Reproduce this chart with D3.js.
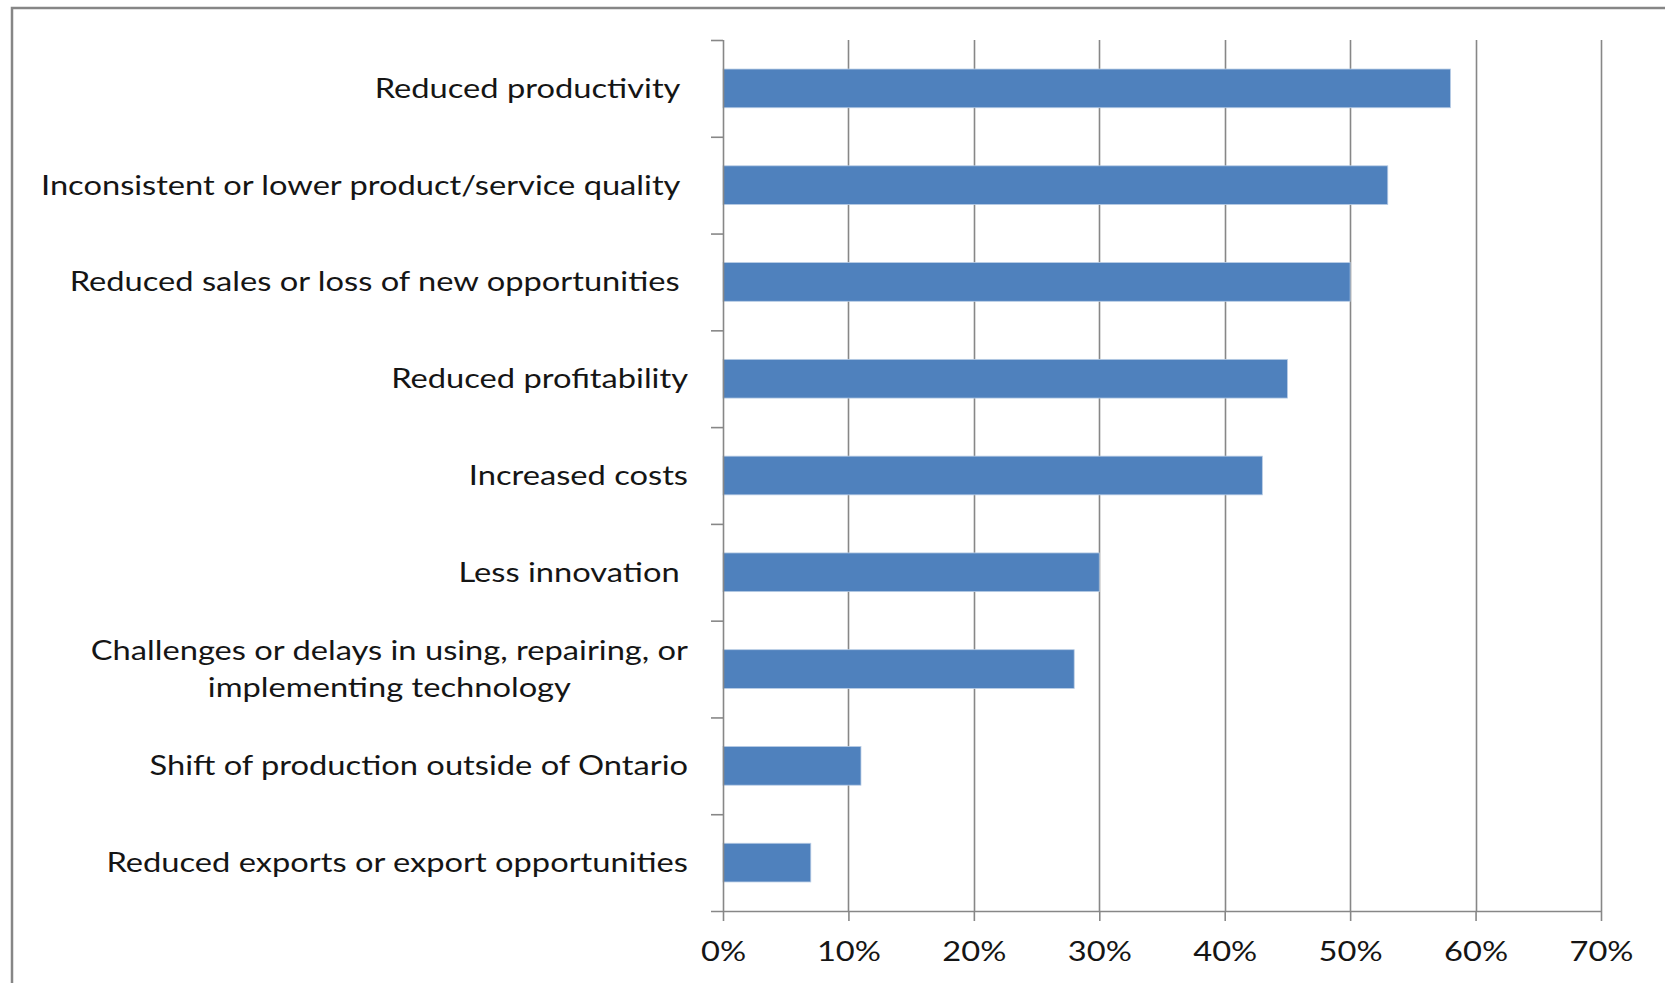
<!DOCTYPE html>
<html>
<head>
<meta charset="utf-8">
<script src="https://cdn.jsdelivr.net/npm/d3@7"></script>
<style>
  html, body { margin: 0; padding: 0; background: #fff; overflow: hidden; }
  svg { display: block; }
  text { font-family: Lato, "Open Sans", sans-serif; fill: #151515; white-space: pre; }
</style>
</head>
<body>
<script>
// Consequences reported, top to bottom; multi-line labels split on "\n"
const categories = [
  "Reduced productivity ",
  "Inconsistent or lower product/service quality ",
  "Reduced sales or loss of new opportunities ",
  "Reduced profitability",
  "Increased costs",
  "Less innovation ",
  "Challenges or delays in using, repairing, or\nimplementing technology",
  "Shift of production outside of Ontario",
  "Reduced exports or export opportunities"
];
const shares = [58, 53, 50, 45, 43, 30, 28, 11, 7];
const tickValues = [0, 10, 20, 30, 40, 50, 60, 70];
const tickLabels = ["0%", "10%", "20%", "30%", "40%", "50%", "60%", "70%"];

const W = 1665, H = 983;
const plot = { left: 723, right: 1601, top: 40, bottom: 911 };
const stretch = 1.21;   // wide setting of the label type
const fontSize = 27;

const svg = d3.select("body").append("svg").attr("width", W).attr("height", H);

// chart area frame
svg.append("rect")
  .attr("x", 12).attr("y", 8)
  .attr("width", W + 20).attr("height", H + 20)
  .attr("fill", "none").attr("stroke", "#868686").attr("stroke-width", 2.5);

const x = d3.scaleLinear().domain([0, 70]).range([plot.left, plot.right]);
const y = d3.scaleBand().domain(categories).range([plot.top, plot.bottom]).paddingInner(0.6).paddingOuter(0.3);
const yb = d3.scaleBand().domain(categories).range([plot.top, plot.bottom]);

// vertical gridlines
svg.append("g").selectAll("line").data(tickValues.slice(1)).join("line")
  .attr("x1", d => Math.round(x(d)) + 0.5).attr("x2", d => Math.round(x(d)) + 0.5)
  .attr("y1", plot.top).attr("y2", plot.bottom)
  .attr("stroke", "#878787").attr("stroke-width", 1.6);

// bars
svg.append("g").selectAll("rect").data(categories).join("rect")
  .attr("x", x(0))
  .attr("y", d => y(d))
  .attr("width", (d, i) => x(shares[i]) - x(0))
  .attr("height", y.bandwidth())
  .attr("fill", "#4f81bd")
  .attr("stroke", "#b9cde5").attr("stroke-width", 0.8);

// x axis (percent)
const xAxis = d3.axisBottom(x).tickValues(tickValues)
  .tickFormat((d, i) => tickLabels[i]).tickSize(10).tickSizeOuter(0).tickPadding(21);
const gx = svg.append("g").attr("transform", `translate(0,${plot.bottom})`).call(xAxis);
gx.select(".domain").remove();
gx.selectAll(".tick line").attr("stroke", "#878787").attr("stroke-width", 1.6);
gx.selectAll(".tick text")
  .attr("font-size", fontSize).attr("font-family", "Lato, sans-serif").attr("fill", "#151515")
  .attr("transform", `scale(${stretch},1)`);
svg.append("line")
  .attr("x1", plot.left - 12).attr("x2", plot.right)
  .attr("y1", plot.bottom + 0.5).attr("y2", plot.bottom + 0.5)
  .attr("stroke", "#878787").attr("stroke-width", 1.6);

// category axis line and band-edge ticks
const gy = svg.append("g");
gy.append("line")
  .attr("x1", plot.left + 0.5).attr("x2", plot.left + 0.5)
  .attr("y1", plot.top).attr("y2", plot.bottom)
  .attr("stroke", "#878787").attr("stroke-width", 1.6);
const edges = categories.map(c => yb(c));
gy.selectAll("line.edge").data(edges).join("line").attr("class", "edge")
  .attr("x1", plot.left - 12).attr("x2", plot.left)
  .attr("y1", d => d + 0.5).attr("y2", d => d + 0.5)
  .attr("stroke", "#878787").attr("stroke-width", 1.6);

// category labels, right-aligned beside the axis
const labelX = 688;
const lineH = 37;
const labels = svg.append("g").attr("font-size", fontSize);
categories.forEach(c => {
  const lines = c.split("\n");
  const cy = yb(c) + yb.bandwidth() / 2;
  const g = labels.append("g")
    .attr("transform", `translate(${labelX},${cy - (lines.length - 1) * lineH / 2}) scale(${stretch},1)`);
  const t = g.append("text");
  if (lines.length === 1) {
    t.attr("x", 0).attr("dy", "0.35em").attr("text-anchor", "end").text(lines[0]);
  } else {
    // multi-line label: lines centred on one another, block right-aligned
    t.attr("text-anchor", "middle");
    lines.forEach((ln, k) => t.append("tspan").attr("x", 0).attr("dy", k === 0 ? "0.35em" : lineH).text(ln));
    const w = d3.max(t.selectAll("tspan").nodes(), n => n.getComputedTextLength());
    t.selectAll("tspan").attr("x", -w / 2);
  }
});
</script>
</body>
</html>
